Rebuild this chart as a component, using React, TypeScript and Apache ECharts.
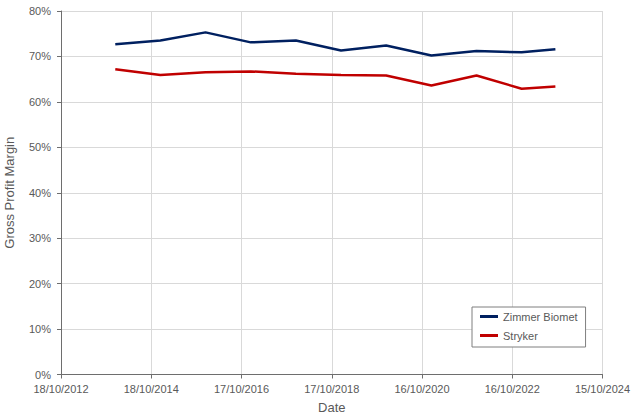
import React, { useEffect, useRef } from "react";
import * as echarts from "echarts";

const DAY = 86400000;
const ORIGIN = Date.UTC(2012, 9, 18);

const dates = [
  "2013-12-31",
  "2014-12-31",
  "2015-12-31",
  "2016-12-31",
  "2017-12-31",
  "2018-12-31",
  "2019-12-31",
  "2020-12-31",
  "2021-12-31",
  "2022-12-31",
  "2023-09-30",
];
const zimmerBiomet = [72.7, 73.5, 75.3, 73.1, 73.5, 71.3, 72.4, 70.2, 71.2, 70.9, 71.6];
const stryker = [67.2, 65.9, 66.5, 66.7, 66.2, 65.9, 65.8, 63.6, 65.8, 62.9, 63.4];

const xMin = 0;
const xMax = 4380;
const xInterval = 730;

const toX = (d: string) => (Date.parse(d) - ORIGIN) / DAY;
const pad = (n: number) => (n < 10 ? "0" + n : "" + n);
const fmtDate = (v: number) => {
  const dt = new Date(ORIGIN + v * DAY);
  return `${pad(dt.getUTCDate())}/${pad(dt.getUTCMonth() + 1)}/${dt.getUTCFullYear()}`;
};

const FONT = "'Liberation Sans', Arial, sans-serif";
const TXT = "#595959";

export default function App() {
  const ref = useRef<HTMLDivElement>(null);
  useEffect(() => {
    if (!ref.current) return;
    const chart = echarts.init(ref.current, undefined, { renderer: "svg" });
    chart.setOption({
      animation: false,
      backgroundColor: "#ffffff",
      textStyle: { fontFamily: FONT },
      grid: {
        left: 61,
        right: 37.5,
        top: 11,
        bottom: 43.5,
        containLabel: false,
        outerBoundsMode: "none",
      },
      legend: {
        orient: "vertical",
        left: 472,
        top: 307,
        backgroundColor: "#ffffff",
        borderColor: "#7f7f7f",
        borderWidth: 1,
        borderRadius: 0,
        padding: [4, 8, 6, 8],
        itemGap: 8,
        itemWidth: 18,
        itemHeight: 3,
        icon: "rect",
        textStyle: { fontSize: 11, color: TXT, fontFamily: FONT },
        data: ["Zimmer Biomet", "Stryker"],
      },
      xAxis: {
        type: "value",
        min: xMin,
        max: xMax,
        interval: xInterval,
        name: "Date",
        nameLocation: "middle",
        nameGap: 26,
        nameTextStyle: { fontSize: 13, color: TXT, fontFamily: FONT },
        axisLine: { show: true, lineStyle: { color: "#6e6e6e", width: 1 } },
        axisTick: { show: true, length: 4, lineStyle: { color: "#6e6e6e" } },
        axisLabel: {
          formatter: (v: number) => fmtDate(v),
          fontSize: 11,
          color: TXT,
          margin: 9,
          fontFamily: FONT,
          showMinLabel: true,
          showMaxLabel: true,
        },
        splitLine: { show: true, lineStyle: { color: "#d9d9d9", width: 1 } },
      },
      yAxis: {
        type: "value",
        min: 0,
        max: 80,
        interval: 10,
        name: "Gross Profit Margin",
        nameLocation: "middle",
        nameRotate: 90,
        nameGap: 45,
        nameTextStyle: { fontSize: 13, color: TXT, fontFamily: FONT },
        axisLine: { show: true, lineStyle: { color: "#6e6e6e", width: 1 } },
        axisTick: { show: true, length: 4, lineStyle: { color: "#6e6e6e" } },
        axisLabel: {
          formatter: "{value}%",
          fontSize: 11,
          color: TXT,
          margin: 10,
          fontFamily: FONT,
        },
        splitLine: { show: true, lineStyle: { color: "#d9d9d9", width: 1 } },
      },
      series: [
        {
          name: "Zimmer Biomet",
          type: "line",
          showSymbol: false,
          symbol: "none",
          color: "#002060",
          lineStyle: { color: "#002060", width: 2.5 },
          data: dates.map((d, i) => [toX(d), zimmerBiomet[i]]),
        },
        {
          name: "Stryker",
          type: "line",
          showSymbol: false,
          symbol: "none",
          color: "#c00000",
          lineStyle: { color: "#c00000", width: 2.5 },
          data: dates.map((d, i) => [toX(d), stryker[i]]),
        },
      ],
    });
    return () => chart.dispose();
  }, []);
  return (
    <div
      ref={ref}
      style={{ position: "fixed", left: 0, top: 0, width: 640, height: 418 }}
    />
  );
}
